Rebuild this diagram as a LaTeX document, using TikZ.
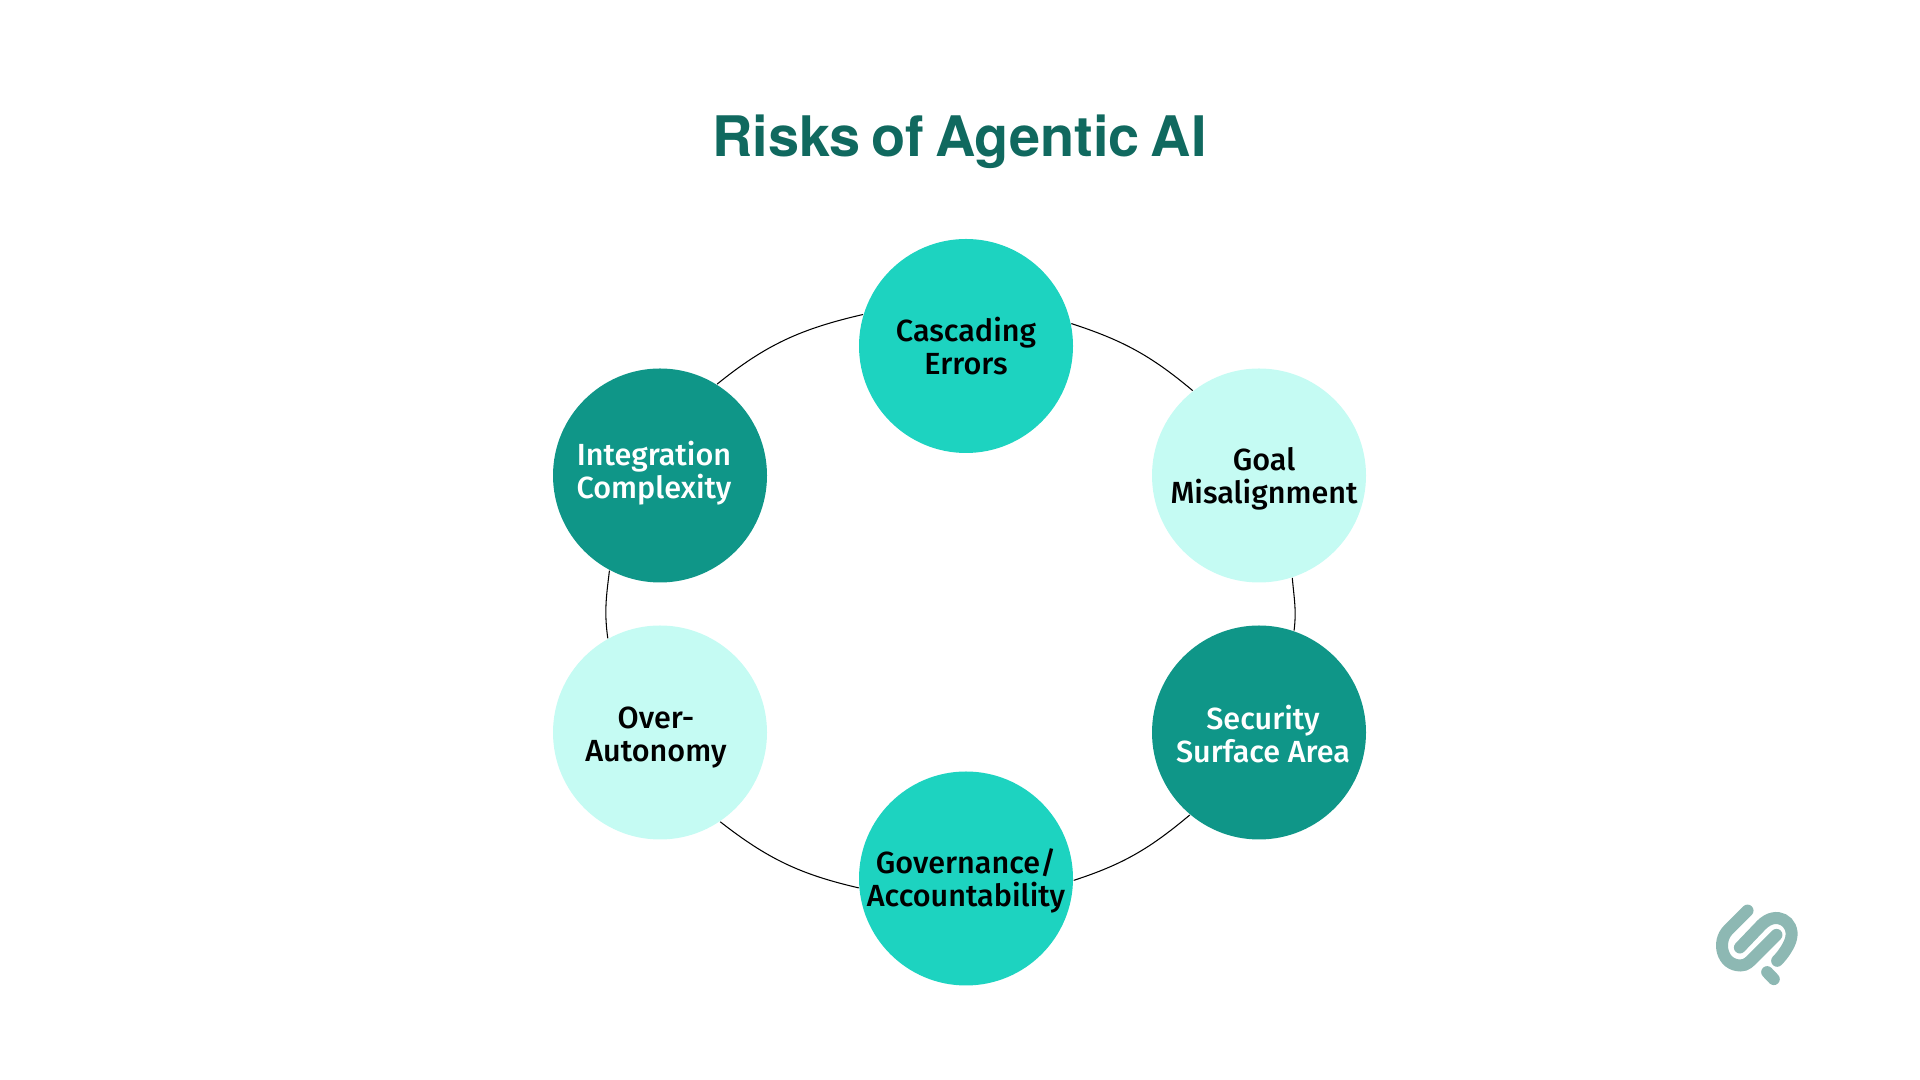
\documentclass[tikz,border=0pt]{standalone}
\usepackage{fontspec}
\setmainfont{Fira Sans}[BoldFont={Fira Sans Medium}]
\newfontfamily\titlefont{TeX Gyre Heros}[WordSpace=0.7]
\usetikzlibrary{backgrounds}
\definecolor{tealmid}{HTML}{1DD3C0}
\definecolor{tealdark}{HTML}{0F9688}
\definecolor{teallight}{HTML}{C5FBF3}
\definecolor{tealtitle}{HTML}{10695F}
\definecolor{logoteal}{HTML}{8DB8B3}
\tikzset{
	riskdisc/.style={circle, minimum size=2.14cm, inner sep=0pt},
	risktext/.style={align=center, font=\fontsize{8.7}{9.4}\selectfont\bfseries},
	ring/.style={black, line width=0.3pt},
	logostroke/.style={logoteal, line width=0.12cm, line cap=round},
}
\begin{document}
\begin{tikzpicture}
	\useasboundingbox (0, 0) rectangle (19.2, 10.8);

	\node[text=tealtitle, font=\titlefont\fontsize{15.9}{19}\selectfont\bfseries] (title) at (9.595, 9.38) {Risks of Agentic AI};

	\node[riskdisc, fill=tealmid]	(cascading) at (9.66, 7.34) {};
	\node[riskdisc, fill=teallight]	(goal) at (12.59, 6.045) {};
	\node[riskdisc, fill=tealdark]	(security) at (12.59, 3.475) {};
	\node[riskdisc, fill=tealmid]	(governance) at (9.66, 2.015) {};
	\node[riskdisc, fill=teallight]	(overauto) at (6.60, 3.475) {};
	\node[riskdisc, fill=tealdark]	(integration) at (6.60, 6.045) {};

	\node[risktext] (cascadingtext) at (cascading) {Cascading\\Errors};
	\node[risktext] (goaltext) at ([xshift=0.05cm, yshift=-0.035cm]goal) {Goal\\Misalignment};
	\node[risktext, text=white] (securitytext) at ([xshift=0.04cm, yshift=-0.015cm]security) {Security\\Surface Area};
	\node[risktext] (governancetext) at ([yshift=-0.02cm]governance) {Governance/\\Accountability};
	\node[risktext] (overautotext) at ([xshift=-0.04cm, yshift=-0.05cm]overauto) {Over-\\Autonomy};
	\node[risktext, text=white] (integrationtext) at ([xshift=-0.06cm, yshift=0.025cm]integration) {Integration\\Complexity};

	\draw[ring] (integration.58) to[out=39, in=193] (cascading.163);
	\draw[ring] (cascading.12) to[out=-18, in=140] (goal.128);
	\draw[ring] (goal.288) to[out=-85, in=83] (security.71);
	\draw[ring] (security.230) to[out=220, in=18] (governance.359);
	\draw[ring] (governance.185) to[out=167, in=-38] (overauto.304);
	\draw[ring] (overauto.119) to[out=98, in=263] (integration.242);

	\begin{scope}[shift={(16.8, 2)}, x=0.00333cm, y=-0.00333cm]
		\draw[logostroke] (203, 92) -- (145, 150) .. controls (110, 185) and (125, 257) .. (182, 257) .. controls (200, 257) and (210, 245) .. (220, 235) -- (290, 165);
		\draw[logostroke] (180, 203) -- (245, 135) .. controls (290, 90) and (345, 125) .. (334, 175) .. controls (330, 195) and (310, 225) .. (292, 243);
		\draw[logostroke] (262, 277) -- (282, 298);
	\end{scope}
\end{tikzpicture}
\end{document}
